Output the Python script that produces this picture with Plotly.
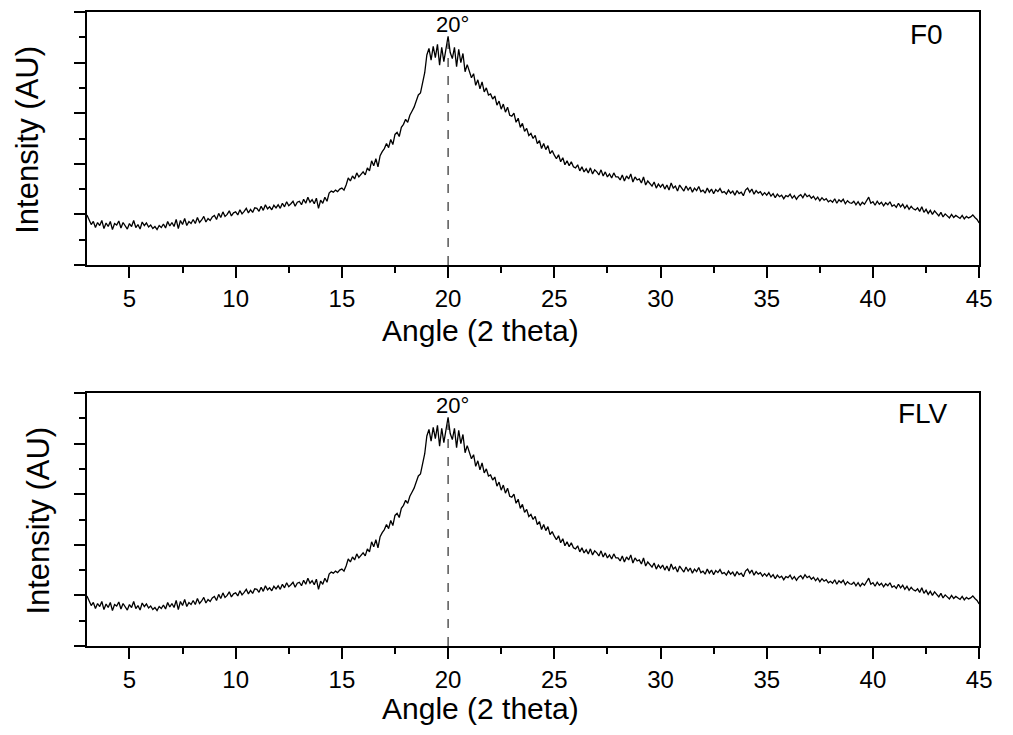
import plotly.graph_objects as go

# Angle grid (2 theta), 0.1 degree steps from 3 to 45
angle = [round(3.0 + 0.1 * i, 1) for i in range(421)]

f0_intensity = [
    0.99, 0.90, 0.80, 0.86, 0.74, 0.84, 0.78, 0.88, 0.72, 0.83,
    0.76, 0.86, 0.70, 0.82, 0.79, 0.87, 0.73, 0.84, 0.77, 0.71,
    0.82, 0.76, 0.88, 0.74, 0.80, 0.71, 0.85, 0.78, 0.83, 0.75,
    0.79, 0.72, 0.76, 0.70, 0.78, 0.74, 0.81, 0.73, 0.86, 0.77,
    0.84, 0.76, 0.90, 0.72, 0.88, 0.80, 0.92, 0.78, 0.86, 0.82,
    0.90, 0.82, 0.94, 0.84, 0.89, 0.96, 0.85, 0.92, 0.88, 0.95,
    0.98, 0.90, 1.02, 0.94, 1.05, 0.96, 1.00, 1.07, 0.97, 1.03,
    1.05, 0.99, 1.09, 1.01, 1.06, 1.12, 1.03, 1.10, 1.04, 1.13,
    1.12, 1.06, 1.16, 1.08, 1.19, 1.11, 1.15, 1.09, 1.18, 1.13,
    1.19, 1.12, 1.22, 1.15, 1.25, 1.17, 1.21, 1.26, 1.16, 1.24,
    1.26, 1.19, 1.30, 1.22, 1.34, 1.24, 1.29, 1.21, 1.32, 1.12,
    1.28, 1.22, 1.34, 1.26, 1.42, 1.46, 1.44, 1.48, 1.45, 1.50,
    1.52, 1.48, 1.58, 1.72, 1.66, 1.76, 1.70, 1.82, 1.74, 1.80,
    1.84, 1.78, 1.92, 1.86, 2.06, 1.96, 2.10, 1.94, 2.16, 2.24,
    2.30, 2.40, 2.32, 2.48, 2.38, 2.58, 2.62, 2.54, 2.72, 2.78,
    2.88, 2.82, 2.96, 3.04, 3.12, 3.24, 3.36, 3.40, 3.58, 3.80,
    4.15, 4.28, 4.05, 4.32, 4.10, 4.36, 3.95, 4.30, 4.02, 4.25,
    4.52, 4.20, 4.08, 4.30, 3.92, 4.26, 4.00, 4.18, 3.82, 3.96,
    3.82, 3.70, 3.78, 3.55, 3.66, 3.48, 3.62, 3.42, 3.50, 3.36,
    3.38, 3.28, 3.34, 3.16, 3.24, 3.08, 3.18, 3.02, 3.12, 2.96,
    2.94, 3.00, 2.82, 2.90, 2.72, 2.80, 2.64, 2.70, 2.56, 2.60,
    2.50, 2.56, 2.40, 2.46, 2.30, 2.40, 2.28, 2.36, 2.20, 2.26,
    2.17, 2.10, 2.18, 2.04, 2.12, 1.98, 2.06, 1.96, 2.04, 1.94,
    1.92, 1.98, 1.86, 1.94, 1.84, 1.90, 1.82, 1.92, 1.80, 1.88,
    1.84, 1.78, 1.88, 1.76, 1.84, 1.74, 1.80, 1.72, 1.82, 1.74,
    1.74, 1.68, 1.78, 1.66, 1.76, 1.70, 1.80, 1.64, 1.74, 1.68,
    1.70, 1.62, 1.74, 1.58, 1.66, 1.60, 1.56, 1.64, 1.52, 1.60,
    1.54, 1.60, 1.50, 1.58, 1.48, 1.62, 1.52, 1.56, 1.46, 1.58,
    1.52, 1.46, 1.56, 1.48, 1.54, 1.44, 1.52, 1.47, 1.55, 1.45,
    1.48, 1.42, 1.52, 1.44, 1.50, 1.41, 1.49, 1.45, 1.51, 1.43,
    1.45, 1.40, 1.48, 1.42, 1.46, 1.38, 1.47, 1.41, 1.44, 1.37,
    1.48, 1.52, 1.44, 1.50, 1.40, 1.47, 1.42, 1.45, 1.38, 1.43,
    1.38, 1.44, 1.36, 1.41, 1.33, 1.40, 1.35, 1.38, 1.31, 1.37,
    1.35, 1.40, 1.32, 1.37, 1.30, 1.36, 1.39, 1.33, 1.41, 1.35,
    1.38, 1.32, 1.36, 1.29, 1.34, 1.27, 1.33, 1.28, 1.31, 1.25,
    1.28, 1.24, 1.31, 1.22, 1.29, 1.25, 1.30, 1.21, 1.27, 1.23,
    1.22, 1.26, 1.19, 1.25, 1.18, 1.24, 1.20, 1.27, 1.34, 1.22,
    1.25, 1.18, 1.26, 1.20, 1.24, 1.17, 1.23, 1.19, 1.25, 1.16,
    1.19, 1.14, 1.22, 1.15, 1.20, 1.12, 1.18, 1.10, 1.16, 1.11,
    1.09, 1.13, 1.06, 1.15, 1.04, 1.10, 1.02, 1.08, 1.00, 1.07,
    1.03, 0.97, 1.04, 0.95, 1.01, 0.96, 0.93, 1.00, 0.94, 0.98,
    0.95, 0.92, 0.98, 0.91, 0.96, 0.93, 0.95, 0.99, 0.94, 0.90,
    0.83,
]

# The FLV pattern in the reference is visually identical to F0
flv_intensity = [
    0.99, 0.90, 0.80, 0.86, 0.74, 0.84, 0.78, 0.88, 0.72, 0.83,
    0.76, 0.86, 0.70, 0.82, 0.79, 0.87, 0.73, 0.84, 0.77, 0.71,
    0.82, 0.76, 0.88, 0.74, 0.80, 0.71, 0.85, 0.78, 0.83, 0.75,
    0.79, 0.72, 0.76, 0.70, 0.78, 0.74, 0.81, 0.73, 0.86, 0.77,
    0.84, 0.76, 0.90, 0.72, 0.88, 0.80, 0.92, 0.78, 0.86, 0.82,
    0.90, 0.82, 0.94, 0.84, 0.89, 0.96, 0.85, 0.92, 0.88, 0.95,
    0.98, 0.90, 1.02, 0.94, 1.05, 0.96, 1.00, 1.07, 0.97, 1.03,
    1.05, 0.99, 1.09, 1.01, 1.06, 1.12, 1.03, 1.10, 1.04, 1.13,
    1.12, 1.06, 1.16, 1.08, 1.19, 1.11, 1.15, 1.09, 1.18, 1.13,
    1.19, 1.12, 1.22, 1.15, 1.25, 1.17, 1.21, 1.26, 1.16, 1.24,
    1.26, 1.19, 1.30, 1.22, 1.34, 1.24, 1.29, 1.21, 1.32, 1.12,
    1.28, 1.22, 1.34, 1.26, 1.42, 1.46, 1.44, 1.48, 1.45, 1.50,
    1.52, 1.48, 1.58, 1.72, 1.66, 1.76, 1.70, 1.82, 1.74, 1.80,
    1.84, 1.78, 1.92, 1.86, 2.06, 1.96, 2.10, 1.94, 2.16, 2.24,
    2.30, 2.40, 2.32, 2.48, 2.38, 2.58, 2.62, 2.54, 2.72, 2.78,
    2.88, 2.82, 2.96, 3.04, 3.12, 3.24, 3.36, 3.40, 3.58, 3.80,
    4.15, 4.28, 4.05, 4.32, 4.10, 4.36, 3.95, 4.30, 4.02, 4.25,
    4.52, 4.20, 4.08, 4.30, 3.92, 4.26, 4.00, 4.18, 3.82, 3.96,
    3.82, 3.70, 3.78, 3.55, 3.66, 3.48, 3.62, 3.42, 3.50, 3.36,
    3.38, 3.28, 3.34, 3.16, 3.24, 3.08, 3.18, 3.02, 3.12, 2.96,
    2.94, 3.00, 2.82, 2.90, 2.72, 2.80, 2.64, 2.70, 2.56, 2.60,
    2.50, 2.56, 2.40, 2.46, 2.30, 2.40, 2.28, 2.36, 2.20, 2.26,
    2.17, 2.10, 2.18, 2.04, 2.12, 1.98, 2.06, 1.96, 2.04, 1.94,
    1.92, 1.98, 1.86, 1.94, 1.84, 1.90, 1.82, 1.92, 1.80, 1.88,
    1.84, 1.78, 1.88, 1.76, 1.84, 1.74, 1.80, 1.72, 1.82, 1.74,
    1.74, 1.68, 1.78, 1.66, 1.76, 1.70, 1.80, 1.64, 1.74, 1.68,
    1.70, 1.62, 1.74, 1.58, 1.66, 1.60, 1.56, 1.64, 1.52, 1.60,
    1.54, 1.60, 1.50, 1.58, 1.48, 1.62, 1.52, 1.56, 1.46, 1.58,
    1.52, 1.46, 1.56, 1.48, 1.54, 1.44, 1.52, 1.47, 1.55, 1.45,
    1.48, 1.42, 1.52, 1.44, 1.50, 1.41, 1.49, 1.45, 1.51, 1.43,
    1.45, 1.40, 1.48, 1.42, 1.46, 1.38, 1.47, 1.41, 1.44, 1.37,
    1.48, 1.52, 1.44, 1.50, 1.40, 1.47, 1.42, 1.45, 1.38, 1.43,
    1.38, 1.44, 1.36, 1.41, 1.33, 1.40, 1.35, 1.38, 1.31, 1.37,
    1.35, 1.40, 1.32, 1.37, 1.30, 1.36, 1.39, 1.33, 1.41, 1.35,
    1.38, 1.32, 1.36, 1.29, 1.34, 1.27, 1.33, 1.28, 1.31, 1.25,
    1.28, 1.24, 1.31, 1.22, 1.29, 1.25, 1.30, 1.21, 1.27, 1.23,
    1.22, 1.26, 1.19, 1.25, 1.18, 1.24, 1.20, 1.27, 1.34, 1.22,
    1.25, 1.18, 1.26, 1.20, 1.24, 1.17, 1.23, 1.19, 1.25, 1.16,
    1.19, 1.14, 1.22, 1.15, 1.20, 1.12, 1.18, 1.10, 1.16, 1.11,
    1.09, 1.13, 1.06, 1.15, 1.04, 1.10, 1.02, 1.08, 1.00, 1.07,
    1.03, 0.97, 1.04, 0.95, 1.01, 0.96, 0.93, 1.00, 0.94, 0.98,
    0.95, 0.92, 0.98, 0.91, 0.96, 0.93, 0.95, 0.99, 0.94, 0.90,
    0.83,
]

sample_labels = ["F0", "FLV"]
peak_angle = 20
peak_label = "20°"
x_title = "Angle (2 theta)"
y_title = "Intensity (AU)"

FONT = "Liberation Sans, Arial, sans-serif"

# The page body has an 8px margin; size the figure so the page never overflows
OFF = 8
W, H = 997, 719


def px_x(sx):
    return (sx - OFF) / W


def px_y(sy):
    return (H - (sy - OFF)) / H


fig = go.Figure()
fig.add_trace(go.Scatter(x=angle, y=f0_intensity, mode="lines",
                         line=dict(color="black", width=1.3),
                         xaxis="x", yaxis="y", showlegend=False))
fig.add_trace(go.Scatter(x=angle, y=flv_intensity, mode="lines",
                         line=dict(color="black", width=1.3),
                         xaxis="x2", yaxis="y2", showlegend=False))

xdom = [px_x(88), px_x(992)]
top_dom = [px_y(265), px_y(12)]
bot_dom = [px_y(646), px_y(393)]

xaxis_common = dict(
    range=[3, 45], domain=xdom, showline=True, mirror=True, linecolor="black",
    linewidth=2, ticks="outside", ticklen=11, tickwidth=2, tickcolor="black",
    tick0=5, dtick=5, showgrid=False, zeroline=False, ticklabeloverflow="allow",
    tickfont=dict(family=FONT, size=24, color="black"),
    minor=dict(ticks="outside", ticklen=6, tickwidth=2, tickcolor="black",
               dtick=2.5, tick0=2.5, showgrid=False),
)
yaxis_common = dict(
    range=[0, 5], showline=True, mirror=True, linecolor="black",
    linewidth=2, ticks="outside", ticklen=11, tickwidth=2, tickcolor="black",
    tick0=0, dtick=1, showgrid=False, zeroline=False, showticklabels=False,
    minor=dict(ticks="outside", ticklen=6, tickwidth=2, tickcolor="black",
               dtick=0.5, tick0=0, showgrid=False),
)

fig.update_layout(
    width=W, height=H,
    margin=dict(l=0, r=0, t=0, b=0),
    paper_bgcolor="white", plot_bgcolor="white",
    xaxis=dict(**xaxis_common, anchor="y"),
    yaxis=dict(**yaxis_common, domain=top_dom, anchor="x"),
    xaxis2=dict(**xaxis_common, anchor="y2"),
    yaxis2=dict(**yaxis_common, domain=bot_dom, anchor="x2"),
)

# dashed marker line at the peak
for xr, yr in [("x", "y"), ("x2", "y2")]:
    fig.add_shape(type="line", xref=xr, yref=yr, x0=peak_angle, x1=peak_angle,
                  y0=0, y1=4.38, line=dict(color="black", width=1, dash="dash"))
    fig.add_annotation(xref=xr, yref=yr, x=peak_angle + 0.2, y=4.75, text=peak_label,
                       showarrow=False, xanchor="center", yanchor="middle",
                       font=dict(family=FONT, size=22, color="black"))

fig.add_annotation(xref="x", yref="y", x=42.5, y=4.55, text=sample_labels[0],
                   showarrow=False, xanchor="center", yanchor="middle",
                   font=dict(family=FONT, size=28, color="black"))
fig.add_annotation(xref="x2", yref="y2", x=42.35, y=4.59, text=sample_labels[1],
                   showarrow=False, xanchor="center", yanchor="middle",
                   font=dict(family=FONT, size=28, color="black"))

# axis titles
for sy in [330, 708]:
    fig.add_annotation(xref="paper", yref="paper", x=px_x(487), y=px_y(sy),
                       text=x_title, showarrow=False, xanchor="center", yanchor="middle",
                       font=dict(family=FONT, size=30, color="black"))
for sx, sy in [(27, 140), (38, 521)]:
    fig.add_annotation(xref="paper", yref="paper", x=px_x(sx), y=px_y(sy),
                       text=y_title, textangle=-90, showarrow=False,
                       xanchor="center", yanchor="middle",
                       font=dict(family=FONT, size=31, color="black"))

fig.write_html("out.html")
